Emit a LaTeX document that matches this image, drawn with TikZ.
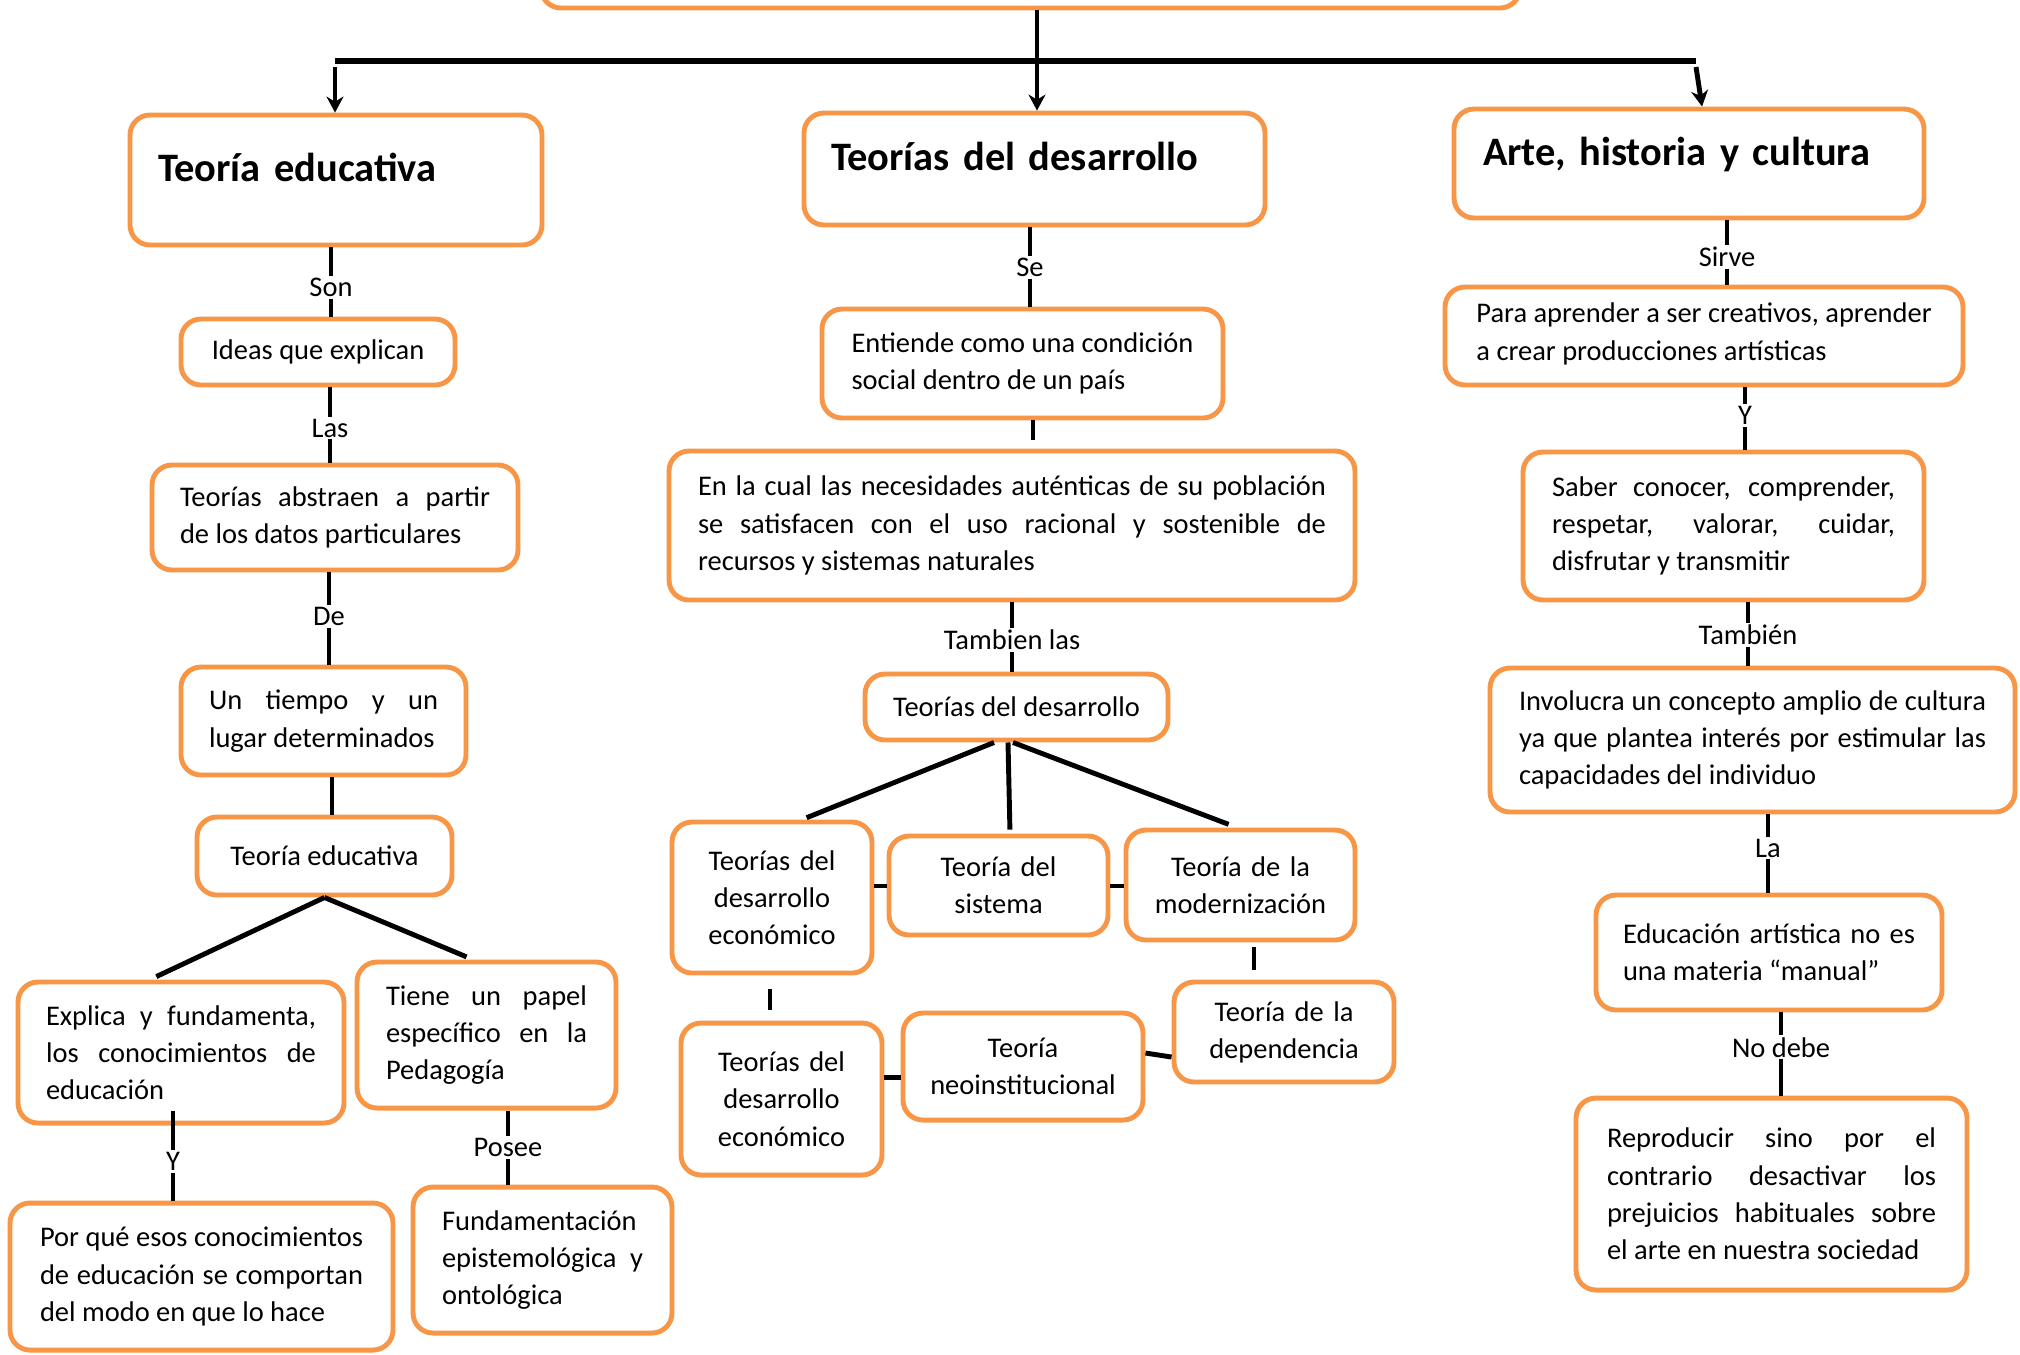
\documentclass[tikz,border=0pt]{standalone}
\usepackage{fontspec}
\setmainfont{Carlito}
\usetikzlibrary{arrows.meta}
\definecolor{naranja}{HTML}{F79646}
\hyphenpenalty=10000
\exhyphenpenalty=10000

\tikzset{
  caja/.style={rectangle,rounded corners=2mm,draw=naranja,fill=white,line width=1.4pt,
    inner xsep=2.8mm,inner ysep=0pt,align=left,font=\fontsize{8.1}{10.6}\selectfont},
  titulo/.style={caja,font=\fontsize{11.5}{14}\selectfont\bfseries,text height=3mm,text depth=2.7mm},
  cajac/.style={caja,inner xsep=1mm,align=center},
  etiq/.style={fill=white,inner sep=0.6pt,font=\fontsize{8.1}{10}\selectfont},
  linea/.style={draw=black,line width=1.4pt},
  flecha/.style={linea,-{Stealth[length=1.6mm,width=1.7mm]}}
}

\begin{document}
\begin{tikzpicture}[x=0.1mm,y=-0.1mm]
    \useasboundingbox (0,0) rectangle (2020,1354);
    \clip (0,0) rectangle (2020,1354);
    % raiz y primer nivel
    \node[caja,minimum width=97.9mm,minimum height=10.6mm] (raiz) at (1030.5,-45) {};
    \node[titulo,minimum height=13mm,text width=35.6mm] (te) at (336,180) {Teoría educativa};
    \node[titulo,minimum height=11.2mm,inner xsep=2.7mm,text width=40.7mm] (tdd) at (1034.5,169) {Teorías del desarrollo};
    \node[titulo,minimum height=10.9mm,inner xsep=2.9mm,text width=41.2mm] (arte) at (1689,163.5) {Arte, historia y cultura};
    \coordinate (barI) at (335,61);
    \coordinate (barD) at (1696,61);
    \draw[linea,line width=1.7pt] (barI) -- (barD);
    \draw[flecha] ([yshift=-0.6mm]barI) -- (te.north -| barI);
    \draw[flecha] ([yshift=-0.6mm]barD) -- (arte.north -| 1702,0);
    \draw[flecha] (raiz.south -| 1037,0) -- (tdd.north -| 1037,0);
    % columna izquierda
    \node[caja,minimum width=27.4mm,minimum height=6.6mm,inner xsep=0pt] (ideas) at (318,352) {Ideas que explican};
    \node[caja,minimum height=10.5mm,text width=31mm,align=justify] (abstraen) at (335,517.5)
      {Teorías abstraen a partir\linebreak de los datos particulares};
    \node[caja,minimum height=10.8mm,text width=22.9mm,align=justify] (tiempo) at (323.5,721)
      {Un tiempo y un\linebreak lugar determinados};
    \node[caja,minimum width=25.5mm,minimum height=7.8mm,inner xsep=0pt] (te2) at (324.5,856) {Teoría educativa};
    \node[caja,minimum height=14.1mm,text width=27mm,align=justify] (explica) at (181,1052.5)
      {Explica y fundamenta,\linebreak los conocimientos de\linebreak educación};
    \node[caja,minimum height=14.6mm,inner xsep=2.9mm,text width=20.1mm,align=justify] (tiene) at (486.5,1035)
      {Tiene un papel\linebreak específico en la\linebreak Pedagogía};
    \node[caja,minimum height=14.7mm,inner xsep=3mm,text width=32.3mm,align=justify] (porque) at (201.5,1276.5)
      {Por qué esos conocimientos\linebreak de educación se comportan\linebreak del modo en que lo hace};
    \node[caja,minimum height=14.6mm,inner xsep=2.9mm,text width=20.1mm,align=justify] (fund) at (542.5,1260)
      {Fundamentación\\ epistemológica y\linebreak ontológica};
    \draw[linea] (te.south -| 331,0) -- node[etiq,pos=0.58] (eSon) {Son} (ideas.north -| 331,0);
    \draw[linea] (ideas.south -| 330,0) -- node[etiq,pos=0.54] (eLas) {Las} (abstraen.north -| 330,0);
    \draw[linea] (abstraen.south -| 329,0) -- node[etiq,pos=0.48] (eDe) {De} (tiempo.north -| 329,0);
    \draw[linea] (tiempo.south -| 332,0) -- (te2.north -| 332,0);
    \draw[linea,shorten >=0.7mm] (te2.south) -- (explica.north -| 150,0);
    \draw[linea,shorten >=0.7mm] (te2.south) -- (tiene.north -| 473,0);
    \draw[linea,shorten <=-1.5mm] (explica.south -| 173,0) -- node[etiq,pos=0.48] (eY) {Y} (porque.north -| 173,0);
    \draw[linea] (tiene.south -| 508,0) -- node[etiq,pos=0.5] (ePosee) {Posee} (fund.north -| 508,0);
    % columna central
    \node[caja,minimum width=40.1mm,minimum height=10.9mm,inner xsep=0pt] (entiende) at (1022.5,363.5)
      {Entiende como una condición\\ social dentro de un país};
    \node[caja,minimum height=14.9mm,inner xsep=2.9mm,text width=62.8mm,align=justify] (enlacual) at (1012,525.5)
      {En la cual las necesidades auténticas de su población\linebreak se satisfacen con el uso racional y sostenible de\linebreak recursos y sistemas naturales};
    \node[caja,minimum width=30.3mm,minimum height=6.6mm,inner xsep=0pt] (tdd2) at (1016.5,707) {Teorías del desarrollo};
    \node[cajac,minimum height=15.1mm,text width=18mm] (eco1) at (772,897.5) {Teorías del\\ desarrollo\\ económico};
    \node[cajac,minimum height=9.9mm,text width=19.9mm] (sistema) at (998.5,885.5) {Teoría del\\ sistema};
    \node[cajac,minimum height=11mm,text width=20.9mm] (modern) at (1240.5,885) {Teoría de la\\ modernización};
    \node[cajac,minimum height=10mm,text width=20mm] (depend) at (1284,1032) {Teoría de la\\ dependencia};
    \node[cajac,minimum height=10.7mm,text width=22mm] (neo) at (1023,1066.5) {Teoría\\ neoinstitucional};
    \node[cajac,minimum height=15.2mm,text width=18.1mm] (eco2) at (781.5,1099) {Teorías del\\ desarrollo\\ económico};
    \draw[linea] (tdd.south -| 1030,0) -- node[etiq,pos=0.51] (eSe) {Se} (entiende.north -| 1030,0);
    \draw[linea,shorten >=0.9mm] (entiende.south -| 1033,0) -- (enlacual.north -| 1033,0);
    \draw[linea] (enlacual.south -| 1012,0) -- node[etiq,pos=0.54] (eTambien) {Tambien las} (tdd2.north -| 1012,0);
    \draw[linea,shorten >=0.5mm] (tdd2.south -| 994,0) -- (eco1.north -| 802,0);
    \draw[linea,shorten >=0.4mm] (tdd2.south -| 1008,0) -- (sistema.north -| 1010,0);
    \draw[linea,shorten >=0.9mm] (tdd2.south -| 1013,0) -- (modern.north -| 1237,0);
    \draw[linea] (eco1.east |- 0,886) -- (sistema.west |- 0,886);
    \draw[linea] (sistema.east |- 0,886) -- (modern.west |- 0,886);
    \draw[linea,shorten <=0.5mm,shorten >=1mm] (modern.south -| 1254,0) -- (depend.north -| 1254,0);
    \draw[linea] (neo.east |- 0,1053) -- (depend.west |- 0,1057);
    \draw[linea,shorten <=1.4mm,shorten >=1.1mm] (eco1.south -| 770,0) -- (eco2.north -| 770,0);
    \draw[linea] (eco2.east |- 0,1077) -- (neo.west |- 0,1077);
    % columna derecha
    \node[caja,minimum width=51.8mm,minimum height=9.8mm,inner xsep=0pt,text depth=0.9mm] (para) at (1704,336)
      {Para aprender a ser creativos, aprender\\ a crear producciones artísticas};
    \node[caja,minimum height=14.8mm,inner xsep=2.9mm,text width=34.3mm,align=justify] (saber) at (1723.5,526)
      {Saber conocer, comprender,\linebreak respetar, valorar, cuidar,\linebreak disfrutar y transmitir};
    \node[caja,minimum height=14.4mm,inner xsep=2.9mm,text width=46.7mm,align=justify] (involucra) at (1752.5,740)
      {Involucra un concepto amplio de cultura\linebreak ya que plantea interés por estimular las\linebreak capacidades del individuo};
    \node[caja,minimum height=11.5mm,inner xsep=2.7mm,text width=29.2mm,align=justify] (educ) at (1769,952.5)
      {Educación artística no es\linebreak una materia “manual”};
    \node[caja,minimum height=19.2mm,inner xsep=3.1mm,text width=32.9mm,align=justify] (repro) at (1771.5,1194)
      {Reproducir sino por el\linebreak contrario desactivar los\linebreak prejuicios habituales sobre\linebreak el arte en nuestra sociedad};
    \draw[linea] (arte.south -| 1727,0) -- node[etiq,pos=0.57] (eSirve) {Sirve} (para.north -| 1727,0);
    \draw[linea] (para.south -| 1745,0) -- node[etiq,pos=0.45] (eY2) {Y} (saber.north -| 1745,0);
    \draw[linea] (saber.south -| 1748,0) -- node[etiq,pos=0.51] (eTambien2) {También} (involucra.north -| 1748,0);
    \draw[linea] (involucra.south -| 1768,0) -- node[etiq,pos=0.43] (eLa) {La} (educ.north -| 1768,0);
    \draw[linea] (educ.south -| 1781,0) -- node[etiq,pos=0.42] (eNoDebe) {No debe} (repro.north -| 1781,0);
\end{tikzpicture}
\end{document}
